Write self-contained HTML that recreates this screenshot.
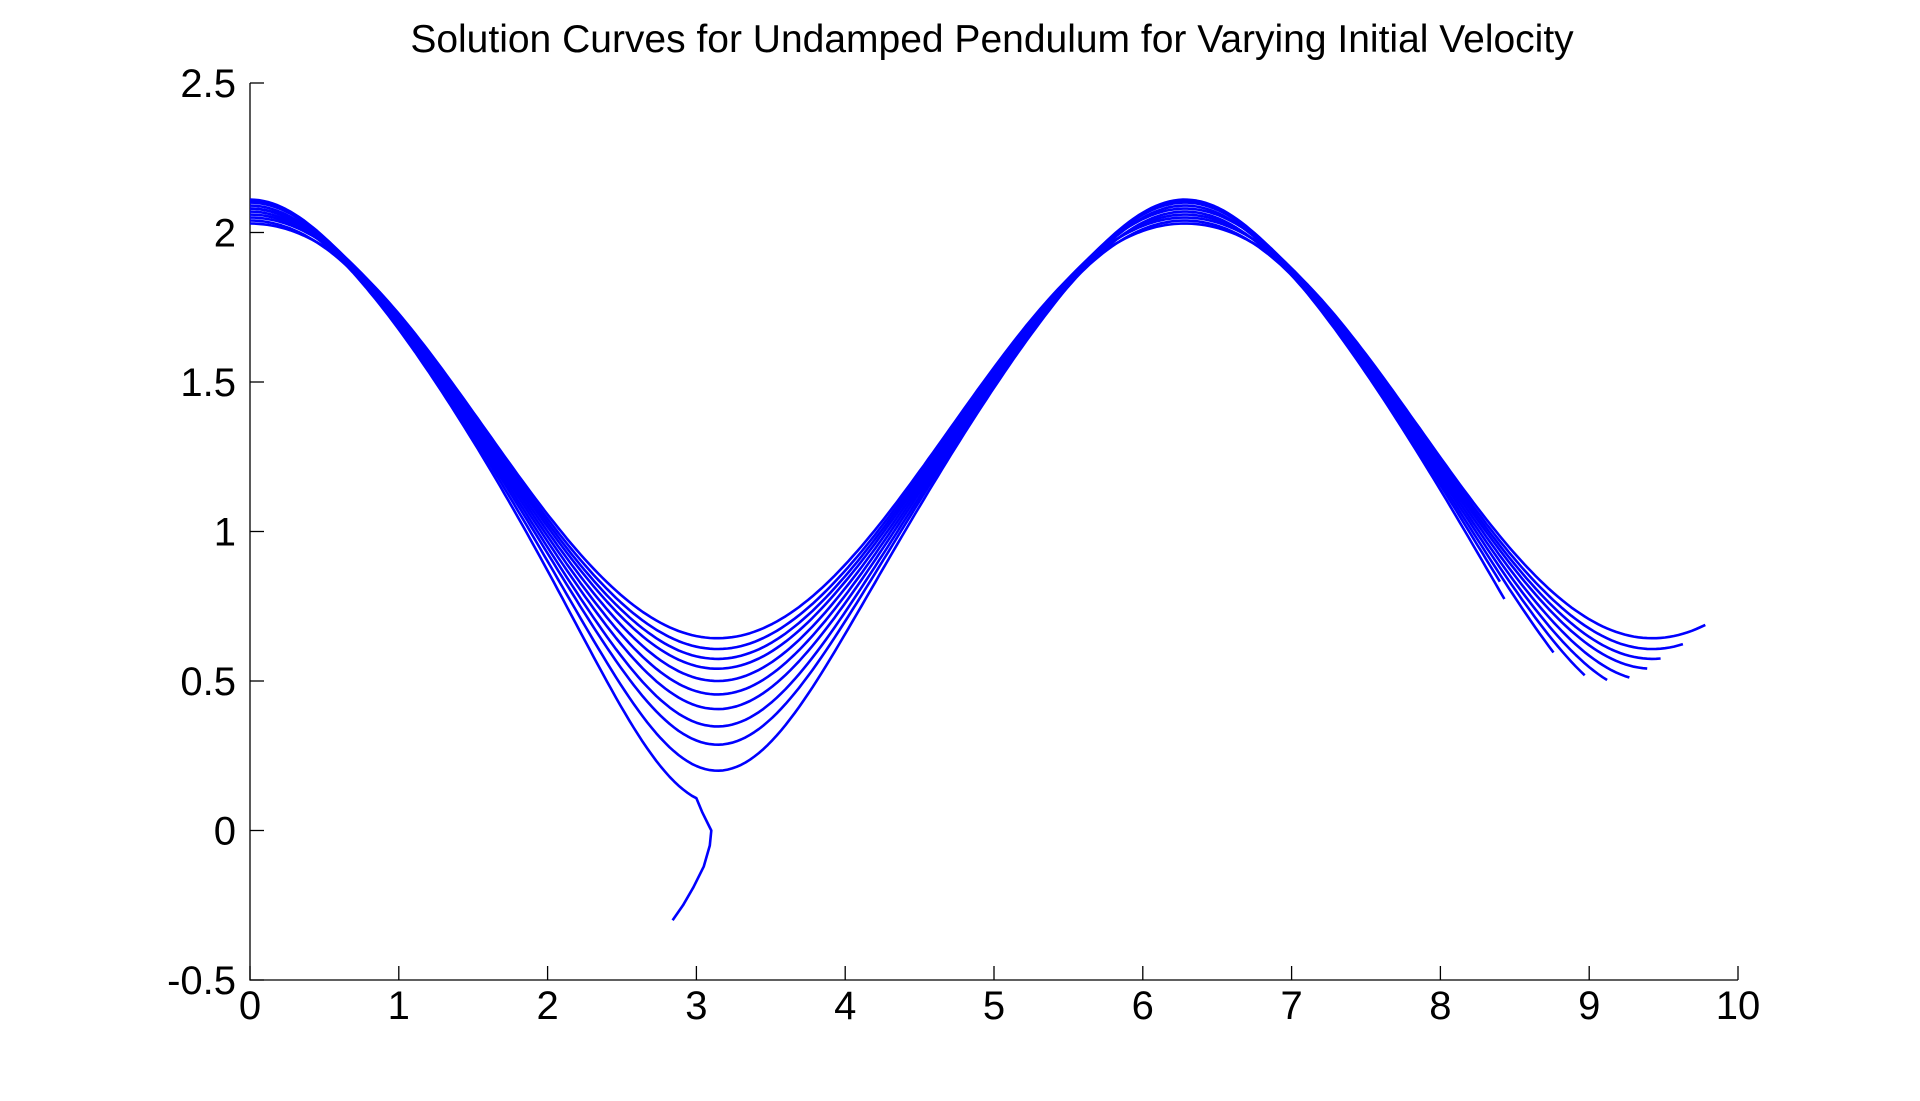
<!DOCTYPE html>
<html><head><meta charset="utf-8"><style>
html,body{margin:0;padding:0;background:#fff;}
svg{display:block;}
text{font-family:"Liberation Sans",Arial,sans-serif;fill:#000;}
</style></head><body>
<svg id="s" width="1920" height="1101" viewBox="0 0 1920 1101" xmlns="http://www.w3.org/2000/svg">
<rect width="1920" height="1101" fill="#fff"/>
<text x="992" y="52" font-size="39" text-anchor="middle">Solution Curves for Undamped Pendulum for Varying Initial Velocity</text>
<g id="axes" stroke="#000" stroke-width="1.3" fill="none"></g>
<g id="lbl" font-size="40"></g>
<g id="cur" stroke="#0000ff" stroke-width="2.6" fill="none" stroke-linejoin="round"></g>
</svg>
<script>
var X0=250,X1=1738,Y0=980,Y1=83;
function px(t){return X0+(X1-X0)*t/10;}
function py(v){return Y0-(Y0-Y1)*(v+0.5)/3;}
var ax=document.getElementById('axes'),lb=document.getElementById('lbl'),cu=document.getElementById('cur');
var NS='http://www.w3.org/2000/svg';
function el(p,tag,attrs,txt){var e=document.createElementNS(NS,tag);for(var k in attrs)e.setAttribute(k,attrs[k]);if(txt!==undefined)e.textContent=txt;p.appendChild(e);return e;}
el(ax,'path',{d:'M'+X0+' '+Y1+'V'+Y0+'H'+X1});
for(var i=0;i<=10;i++){var x=px(i);el(ax,'path',{d:'M'+x+' '+Y0+'v-14'});el(lb,'text',{x:x,y:1019,'text-anchor':'middle'},String(i));}
var yl=['-0.5','0','0.5','1','1.5','2','2.5'];
for(var j=0;j<7;j++){var v=-0.5+0.5*j,y=py(v);el(ax,'path',{d:'M'+X0+' '+y+'h14'});el(lb,'text',{x:236,y:y+14,'text-anchor':'end'},yl[j]);}
var P=Math.PI;
function C(t){return 1.35+0.7*Math.cos(t);}
function w(t,c){var z=(t-c)/0.95;return Math.exp(-z*z);}
function Y(t,d,e,g){var cp=Math.cos(t);var pk=cp>0?Math.pow(cp,6):0;var s=Math.sin(t);return C(t)-d*(w(t,P)+w(t,3*P))+e*pk-g*s*s;}
var mins=[0.643,0.607,0.574,0.541,0.5,0.455,0.406,0.348,0.287,0.2];
var offs=[0.0,0.03,-0.02,0.05,0.01,0.06,-0.01,0.04,0.02,0.055];
var ends=[9.78,9.64,9.5,9.39,9.27,9.14,8.98,8.77,8.42,8.45];
for(var k=0;k<10;k++){
 var d=0.65-mins[k],s='',g=0.007*k;
 for(var t=0;t<=ends[k]+1e-9;t+=0.03){s+=(s?'L':'M')+px(t).toFixed(1)+' '+py(Y(t,d,offs[k],g)).toFixed(1);}
 el(cu,'path',{d:s});
}
var s='';
for(var t=0;t<=3.0;t+=0.03){s+=(s?'L':'M')+px(t).toFixed(1)+' '+py(Y(t,0.56,0.03,0.07)).toFixed(1);}
[[3.04,0.06],[3.08,0.02],[3.1,0.0],[3.09,-0.05],[3.05,-0.12],[2.98,-0.19],[2.91,-0.25],[2.84,-0.3]].forEach(function(p){s+='L'+px(p[0]).toFixed(1)+' '+py(p[1]).toFixed(1);});
el(cu,'path',{d:s});
</script>
</body></html>
